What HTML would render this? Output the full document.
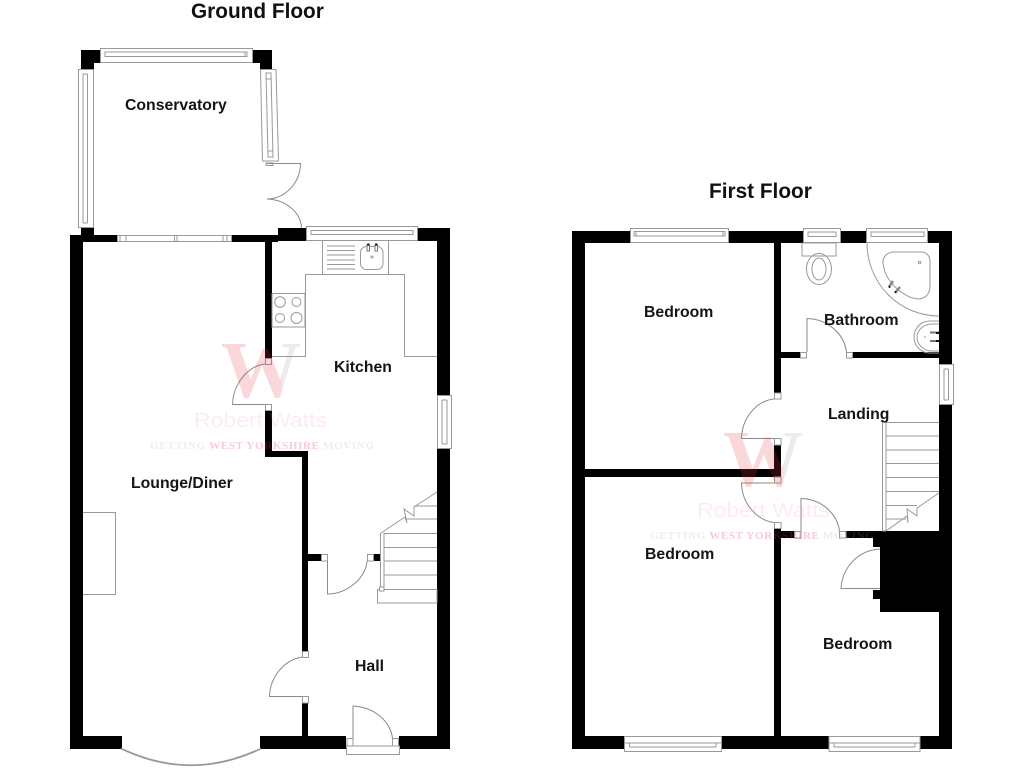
<!DOCTYPE html>
<html><head><meta charset="utf-8"><style>
html,body{margin:0;padding:0;background:#fff;width:1024px;height:768px;overflow:hidden}
svg{display:block}
.l{font-family:"Liberation Sans",sans-serif;font-weight:bold;font-size:15.8px;fill:#151515}
.t{font-family:"Liberation Sans",sans-serif;font-weight:bold;font-size:20.8px;fill:#111}
.g{fill:none;stroke:#999;stroke-width:1}
.d{fill:none;stroke:#8a8a8a;stroke-width:1}
.w{fill:#fff;stroke:#999;stroke-width:1}
</style></head><body>
<svg width="1024" height="768" viewBox="0 0 1024 768" xmlns="http://www.w3.org/2000/svg">
<defs>
<linearGradient id="wg" x1="0" x2="1" y1="0" y2="0"><stop offset="0" stop-color="#e8383a"/><stop offset=".74" stop-color="#e8383a"/><stop offset=".77" stop-color="#a0a0a0"/><stop offset="1" stop-color="#a0a0a0"/></linearGradient>
</defs>
<rect width="1024" height="768" fill="#fff"/>

<!-- GROUND FLOOR walls -->
<g fill="#000">
<path d="M81 50H101V63H94V69H81Z"/>
<path d="M253 50H272V69H260V63H253Z"/>
<rect x="81" y="228" width="13" height="8"/>
<rect x="70" y="235" width="13" height="514"/>
<rect x="70" y="235" width="47" height="7"/>
<rect x="232" y="235" width="46" height="7"/>
<rect x="278" y="228" width="28" height="13"/>
<rect x="418" y="228" width="32" height="13"/>
<rect x="437" y="228" width="13" height="167"/>
<rect x="437" y="449" width="13" height="300"/>
<rect x="265" y="241" width="7" height="117"/>
<path d="M265 410H272V451H308V651H302V457H265Z"/>
<rect x="302" y="703" width="6" height="34"/>
<rect x="70" y="736" width="52" height="13"/>
<rect x="260" y="736" width="86" height="13"/>
<rect x="399" y="736" width="51" height="13"/>
<rect x="308" y="554" width="13" height="7"/>
<rect x="373" y="554" width="7" height="7"/>
</g>

<!-- Conservatory windows -->
<rect x="100.500" y="48.500" width="152" height="14" class="w"/>
<path d="M105 52H247V56.500H105ZM105 52V56.500M245 52V56.500" class="g"/>
<rect x="78.500" y="69.500" width="15" height="158" class="w"/>
<path d="M83 74V223M87.500 74V223M83 223H87.500M83 74H87.500" class="g"/>
<path d="M260.500 69.500L276 69.500L278.500 161L262.500 161Z" class="w"/>
<path d="M266 73L271 73L273 157L268 157ZM266 79H271M268 151H273" class="g"/>
<rect x="266" y="163" width="7" height="2.500" class="w"/>
<!-- Conservatory doors -->
<path d="M267 163.500H300.500A34 36 0 0 1 267 199A36 30 0 0 1 301.500 228" class="d"/>

<!-- Patio window -->
<rect x="117.500" y="235.500" width="114" height="6" class="w"/>
<path d="M126 235.500V241.500M174.500 235.500V241.500M177 235.500V241.500M223 235.500V241.500M120 235.500V241.500M227 235.500V241.500" class="g"/>

<!-- Kitchen window -->
<rect x="306.500" y="226.500" width="111" height="14" class="w"/>
<path d="M311 230.500H413V234.500H311Z" class="g"/>

<!-- Kitchen units -->
<path d="M322.500 241V274.500M388.500 241V274.500M305 274.500H404.500V356.500H437M305.500 274.500V356.500H272" class="g"/>
<path d="M327 246H355M327 250.500H355M327 255H355M327 260H355M327 264.500H355M327 269H355" class="g"/>
<rect x="360.500" y="246.500" width="22.500" height="23" rx="6" class="g"/>
<rect x="367" y="245" width="2.500" height="6" fill="#fff" stroke="#777"/>
<rect x="375" y="245" width="2.500" height="6" fill="#fff" stroke="#777"/>
<circle cx="368.300" cy="244.500" r="1.300" fill="#222"/><circle cx="376.200" cy="244.500" r="1.300" fill="#222"/>
<circle cx="372" cy="257" r="1" class="g"/>
<rect x="272" y="293.500" width="33" height="33.500" class="g"/>
<circle cx="280" cy="302" r="5.300" class="g"/><circle cx="296.500" cy="302" r="4.500" class="g"/>
<circle cx="280" cy="318" r="4.500" class="g"/><circle cx="296.500" cy="318" r="5.500" class="g"/>

<!-- Lounge door -->
<rect x="265.500" y="358.500" width="6" height="6" class="w"/>
<rect x="265.500" y="404.500" width="6" height="6" class="w"/>
<path d="M265 364C247 366 233 385 232.500 404.500H265" class="d"/>
<!-- Kitchen side window -->
<rect x="437.500" y="395.500" width="14" height="53" class="w"/>
<path d="M442 400V444M447 400V444M442 400H447M442 444H447" class="g"/>
<!-- Fireplace -->
<path d="M83 512.500H115.500V594.500H83" class="g"/>

<!-- Hall door to kitchen -->
<rect x="321.500" y="554.500" width="6" height="6.500" class="w"/>
<rect x="367.500" y="554.500" width="6" height="6.500" class="w"/>
<path d="M327.500 561V594C347 594 366 578 367 561" class="d"/>

<!-- Ground stairs -->
<path d="M380.500 533V590M384 533V590" class="g"/>
<path d="M384 533.500H437M384 547.500H437M384 561H437M384 575H437M384 589.500H437" class="g"/>
<path d="M414 506H437M405 519H437" class="g"/>
<rect x="377.500" y="589.500" width="59.500" height="13.500" class="g"/>
<path d="M381 533L405 517L407 523L404 509L414 516V507L437 492" class="g"/>
<rect x="379.500" y="587" width="4.500" height="4" class="w"/>

<!-- Lounge/hall door -->
<rect x="302.500" y="651.500" width="6" height="6" class="w"/>
<rect x="302.500" y="696.500" width="6" height="6.500" class="w"/>
<path d="M302 657C284 660 270 677 269.500 696.500H302" class="d"/>
<!-- Front door -->
<rect x="346.500" y="746" width="53" height="8.500" class="w"/>
<rect x="347" y="738.500" width="6" height="7.500" class="w"/>
<rect x="392.500" y="738.500" width="6" height="7.500" class="w"/>
<path d="M353 738V706C373 707 390 720 392.500 738" class="d"/>
<!-- Bay -->
<path d="M121 748.500Q191 782 261 748.500" fill="none" stroke="#999" stroke-width="1.800"/>

<!-- FIRST FLOOR walls -->
<g fill="#000">
<rect x="572" y="231" width="13" height="518"/>
<rect x="572" y="231" width="58" height="12"/>
<rect x="729" y="231" width="74" height="12"/>
<rect x="841" y="231" width="25" height="12"/>
<rect x="928" y="231" width="24" height="12"/>
<rect x="939" y="231" width="13" height="133"/>
<rect x="939" y="405" width="13" height="344"/>
<rect x="572" y="736" width="52" height="13"/>
<rect x="722" y="736" width="107" height="13"/>
<rect x="920" y="736" width="32" height="13"/>
<rect x="774" y="243" width="7" height="150"/>
<rect x="774" y="445" width="7" height="32"/>
<rect x="585" y="469" width="196" height="8"/>
<rect x="774" y="528" width="7" height="208"/>
<rect x="781" y="352" width="19" height="6"/>
<rect x="852" y="352" width="87" height="6"/>
<rect x="781" y="531" width="13" height="7"/>
<rect x="846" y="531" width="30" height="7"/>
<path d="M873 531H939V612H880V599H873V590H880V547H873Z"/>
</g>

<!-- First floor windows -->
<rect x="630.500" y="228.500" width="98" height="14" class="w"/>
<path d="M634 231.500H725V236H634ZM636 231.500V236M723 231.500V236" class="g"/>
<rect x="803.500" y="228.500" width="37" height="14" class="w"/>
<path d="M808 232H836V236.500H808Z" class="g"/>
<rect x="866.500" y="228.500" width="61" height="14" class="w"/>
<path d="M871 232H924V236.500H871Z" class="g"/>
<rect x="939.500" y="364.500" width="14" height="40" class="w"/>
<path d="M944 369V400M948.500 369V400M944 369H948.500M944 400H948.500" class="g"/>
<rect x="624.500" y="736.500" width="97" height="15" class="w"/>
<path d="M624.500 743H721.500M629.500 743V747M716 743V747M629.500 747H716" class="g"/>
<rect x="829" y="736.500" width="91" height="15" class="w"/>
<path d="M829 743H920M834 743V747M915 743V747M834 747H915" class="g"/>

<!-- Bathroom fixtures -->
<rect x="802" y="243" width="34" height="13" class="g"/>
<ellipse cx="819" cy="269" rx="12.500" ry="15.500" class="g"/>
<ellipse cx="819" cy="269" rx="7" ry="11" class="g"/>
<path d="M867 243A72 73 0 0 0 939 316" class="g"/>
<path d="M883 262C883 256 888 252 894 252H921C927 252 930 256 930 262V286C930 294 925 299 918 299C905 298 890 285 885 272C884 268 883 265 883 262Z" class="g"/>
<circle cx="919.500" cy="262.500" r="1.200" class="g"/>
<path d="M889 287L893 281M895 293L900 287" stroke="#888" stroke-width="2.500"/>
<circle cx="889.500" cy="287" r="1" fill="#111"/><circle cx="895.500" cy="292" r="1" fill="#111"/>
<path d="M939 321H930C920 321 914 329 914 337C914 346 921 353 930 353H939" class="g"/>
<path d="M939 324H932C924 324 917 330 917 337C917 345 924 351 932 351H939" class="g"/>
<path d="M930 332.500H939M930 341H939" stroke="#777" stroke-width="2"/>
<rect x="936" y="332" width="3" height="2" fill="#111"/><rect x="936" y="340" width="3" height="2" fill="#111"/>
<circle cx="925" cy="337" r=".8" fill="#888"/>

<!-- Bathroom door -->
<rect x="800.500" y="352.500" width="6" height="5.500" class="w"/>
<rect x="846.500" y="352.500" width="6" height="5.500" class="w"/>
<path d="M807 352V318.500C827 319 844 333 846.500 352" class="d"/>

<!-- Bedroom doors -->
<rect x="774.500" y="393" width="6.500" height="6" class="w"/>
<rect x="774.500" y="438.500" width="6.500" height="6.500" class="w"/>
<path d="M774 399C756 401 742 418 741.500 438.500H774" class="d"/>
<rect x="774.500" y="477" width="6.500" height="6" class="w"/>
<rect x="774.500" y="522.500" width="6.500" height="6" class="w"/>
<path d="M774 483H741.500C742 503 756 520 774 522.500" class="d"/>
<!-- Bedroom 3 door -->
<rect x="794.500" y="531.500" width="6.500" height="6.500" class="w"/>
<rect x="839.500" y="531.500" width="6.500" height="6.500" class="w"/>
<path d="M801 531V498.500C821 499 837 513 839.500 531" class="d"/>
<!-- Cupboard door -->
<path d="M880 549C858 550 842 568 841 588.500H880" fill="#fff" stroke="#8a8a8a"/>

<!-- First stairs -->
<rect x="882.500" y="422" width="3.500" height="109" fill="#fff" stroke="#999"/>
<path d="M886 422.500H939M886 436H939M886 450H939M886 463.500H939M886 477.500H939M886 491.500H939M886 505.500H917M886 519H906" class="g"/>
<path d="M886 531L907 516L908 523L907 509L917 516V508L939 493" class="g"/>

<!-- Labels -->
<text x="191" y="18" class="t">Ground Floor</text>
<text x="709" y="198" class="t">First Floor</text>
<text x="125" y="110" class="l">Conservatory</text>
<text x="334" y="372" class="l">Kitchen</text>
<text x="131" y="488" class="l">Lounge/Diner</text>
<text x="355" y="671" class="l">Hall</text>
<text x="644" y="317" class="l">Bedroom</text>
<text x="824" y="325" class="l">Bathroom</text>
<text x="828" y="419" class="l">Landing</text>
<text x="645" y="559" class="l">Bedroom</text>
<text x="823" y="649" class="l">Bedroom</text>

<!-- Watermarks -->
<g>
<text x="221" y="397" font-family="'Liberation Serif',serif" font-weight="bold" font-size="80" fill="url(#wg)" fill-opacity=".2" textLength="80" lengthAdjust="spacingAndGlyphs">W</text>
<text x="194" y="427" font-family="'Liberation Sans',sans-serif" font-size="20" fill="#f08a96" fill-opacity=".16" textLength="133" lengthAdjust="spacingAndGlyphs">Robert Watts</text>
<text x="150" y="449" font-family="'Liberation Serif',serif" font-weight="bold" font-size="11" fill="#999" fill-opacity=".18" textLength="224" lengthAdjust="spacing">GETTING <tspan fill="#d9304a" fill-opacity=".25">WEST YORKSHIRE</tspan> MOVING</text>
<text x="723" y="486" font-family="'Liberation Serif',serif" font-weight="bold" font-size="80" fill="url(#wg)" fill-opacity=".2" textLength="80" lengthAdjust="spacingAndGlyphs">W</text>
<text x="697" y="517" font-family="'Liberation Sans',sans-serif" font-size="20" fill="#f08a96" fill-opacity=".16" textLength="133" lengthAdjust="spacingAndGlyphs">Robert Watts</text>
<text x="650" y="539" font-family="'Liberation Serif',serif" font-weight="bold" font-size="11" fill="#999" fill-opacity=".18" textLength="224" lengthAdjust="spacing">GETTING <tspan fill="#d9304a" fill-opacity=".25">WEST YORKSHIRE</tspan> MOVING</text>
</g>
</svg>
</body></html>
